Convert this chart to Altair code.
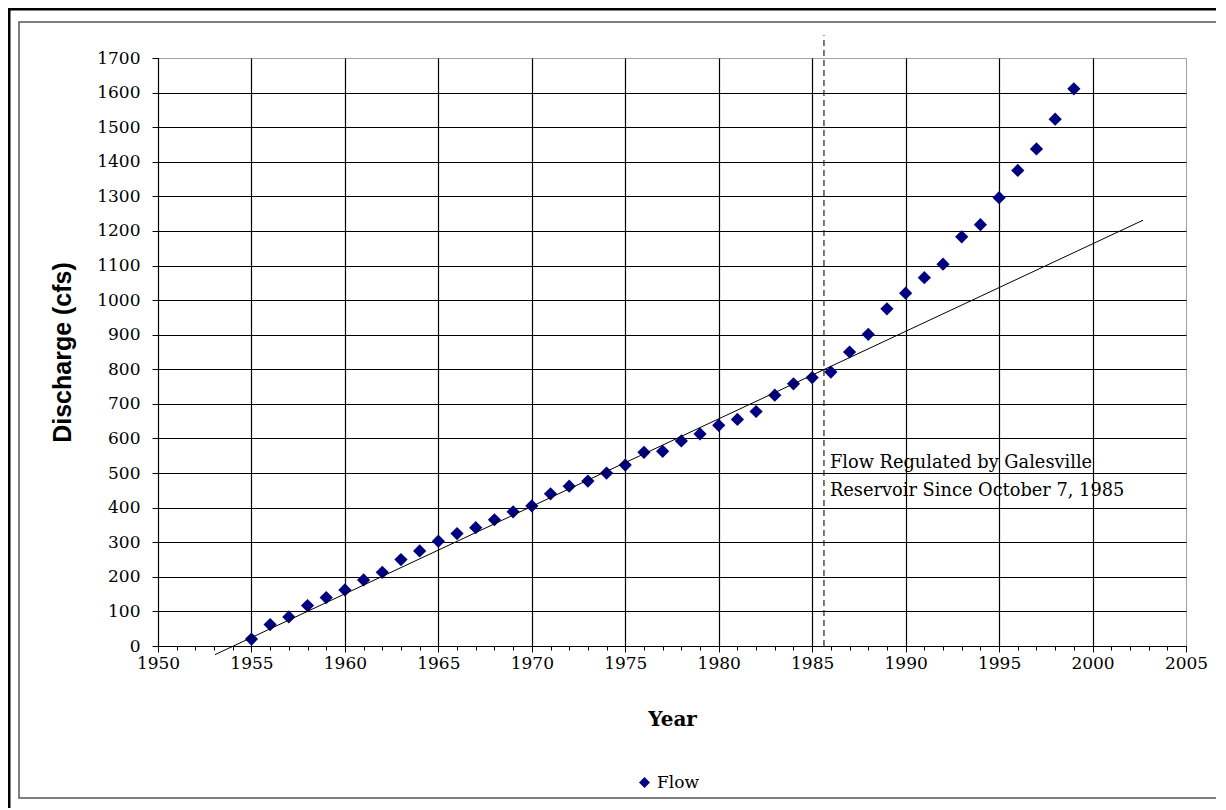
import altair as alt
import pandas as pd

# ---- data ----
years = list(range(1955, 2000))
flow = [20, 62, 84, 117, 140, 162, 191, 213, 250, 275,
        303, 325, 342, 365, 388, 405, 440, 462, 477, 500,
        523, 560, 563, 593, 613, 638, 655, 678, 725, 758,
        776, 792, 850, 901, 975, 1020, 1065, 1104, 1183, 1218,
        1296, 1375, 1437, 1523, 1611]
series_name = "Flow"
trend_years = [1953.05, 2002.7]
trend_flow = [-25, 1231]
regulation_year = 1985.63
regulation_span = [0, 1766]
note_lines = ["Flow Regulated by Galesville", "Reservoir Since October 7, 1985"]
note_year = 1985.63
note_flow = 515
x_tick_values = list(range(1950, 2006))
y_tick_values = list(range(0, 1701, 100))

flow_df = pd.DataFrame({"Year": years, "Discharge": flow, "Series": [series_name] * len(years)})
trend_df = pd.DataFrame({"Year": trend_years, "Discharge": trend_flow})
reg_df = pd.DataFrame({"Year": [regulation_year], "Discharge": [regulation_span[0]], "Top": [regulation_span[1]]})
note_df = pd.DataFrame({"Year": [note_year], "Discharge": [note_flow], "Note": ["\n".join(note_lines)]})

x_scale = alt.Scale(domain=[1950, 2005], nice=False, zero=False)
y_scale = alt.Scale(domain=[0, 1700], nice=False, zero=False)

major5 = "datum.value % 5 == 0"
x_axis = alt.Axis(
    values=x_tick_values, format="d",
    labelExpr=f"{major5} ? datum.label : ''",
    labelOverlap=False, labelFlush=False,
    labelFont="DejaVu Serif", labelFontSize=17, labelColor="black", labelPadding=3,
    tickColor="black", tickWidth=1,
    tickSize={"condition": {"test": major5, "value": 6}, "value": 4},
    grid=True, gridColor="black", gridWidth=1.2,
    gridOpacity={"condition": {"test": "datum.value % 5 == 0 && datum.value < 2005", "value": 1}, "value": 0},
    domainColor="black", domainWidth=1,
    titleFont="DejaVu Serif", titleFontWeight="bold", titleFontSize=20,
    titleColor="black", titlePadding=38,
)
y_axis = alt.Axis(
    values=y_tick_values, format="d",
    labelFont="DejaVu Serif", labelFontSize=17, labelColor="black", labelPadding=12,
    tickColor="black", tickSize=6, tickWidth=1,
    grid=True, gridColor="black", gridWidth=1.2,
    gridOpacity={"condition": {"test": "datum.value < 1700", "value": 1}, "value": 0},
    domainColor="black", domainWidth=1,
    titleFont="Liberation Sans", titleFontWeight="bold", titleFontSize=25,
    titleColor="black", titlePadding=21,
)


def X(field):
    return alt.X(f"{field}:Q", scale=x_scale, axis=x_axis, title="Year")


def Y(field):
    return alt.Y(f"{field}:Q", scale=y_scale, axis=y_axis, title="Discharge (cfs)")


# decorative page frames (not data)
frame_data = alt.Data(values=[{}])
outer_frame = alt.Chart(frame_data).mark_rect(
    fillOpacity=0, stroke="black", strokeWidth=3
).encode(x=alt.value(-149), y=alt.value(-49), x2=alt.value(1200), y2=alt.value(800))
inner_frame = alt.Chart(frame_data).mark_rect(
    fillOpacity=0, stroke="#555555", strokeWidth=1.5
).encode(x=alt.value(-139), y=alt.value(-36), x2=alt.value(1200), y2=alt.value(740))

points = alt.Chart(flow_df).mark_point(
    shape="diamond", filled=True, size=175, opacity=1
).encode(
    x=X("Year"), y=Y("Discharge"),
    color=alt.Color("Series:N", scale=alt.Scale(range=["#000080"]),
                    legend=alt.Legend(title=None, orient="none", legendX=478, legendY=716,
                                      symbolType="diamond", symbolSize=120,
                                      symbolFillColor="#000080", symbolStrokeWidth=0,
                                      labelFont="DejaVu Serif", labelFontSize=17,
                                      labelColor="black")),
)

trend = alt.Chart(trend_df).mark_line(color="black", strokeWidth=1).encode(
    x=X("Year"), y=Y("Discharge")
)

reg_rule = alt.Chart(reg_df).mark_rule(color="#222222", strokeWidth=1.2, strokeDash=[6, 4]).encode(
    x=X("Year"), y=Y("Discharge"), y2="Top:Q"
)

note = alt.Chart(note_df).mark_text(
    align="left", baseline="alphabetic", dx=6, font="DejaVu Serif", fontSize=17.8,
    lineHeight=28, lineBreak="\n", color="black"
).encode(x=X("Year"), y=Y("Discharge"), text="Note:N")

chart = alt.layer(outer_frame, inner_frame, reg_rule, note, points, trend).properties(
    width=1028, height=588,
    autosize=alt.AutoSizeParams(type="none"),
    padding={"left": 150, "top": 50, "right": 30, "bottom": 162},
    background="white",
).configure_view(stroke="#a0a0a0", strokeWidth=1)

chart.save("out.html", embed_options={"renderer": "svg", "actions": False})
